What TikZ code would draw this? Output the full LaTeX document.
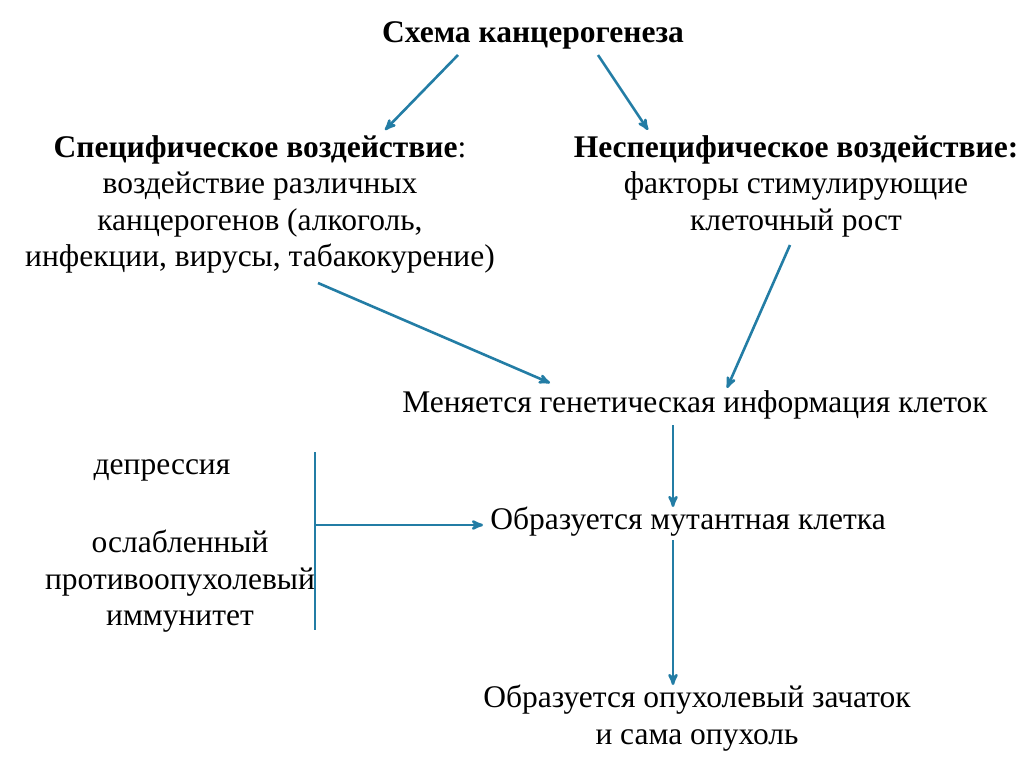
\documentclass[tikz,border=0pt]{standalone}
\usepackage{fontspec}
\setmainfont{Liberation Serif}
\usetikzlibrary{positioning}
\usetikzlibrary{arrows}
\definecolor{arrowblue}{RGB}{35,125,165}
\tikzset{txt/.style={align=center,inner sep=0pt,font=\fontsize{31.5}{36.5}\selectfont}}
\tikzset{line/.style={arrowblue,>=stealth',line width=2.6pt}}
\begin{document}
\begin{tikzpicture}[x=1pt,y=-1pt]
  \useasboundingbox (0,0) rectangle (1024,767);
  % Texts
  \node[txt,font=\fontsize{31.5}{36.5}\selectfont\bfseries] (title) at (533,35) {Схема канцерогенеза};
  \node[txt,anchor=north] (spec) at (260,135) {\textbf{Специфическое воздействие}:\\воздействие различных\\канцерогенов (алкоголь,\\инфекции, вирусы, табакокурение)};
  \node[txt,anchor=north] (nonspec) at (796,135) {\textbf{Неспецифическое воздействие:}\\факторы стимулирующие\\клеточный рост};
  \node[txt] (gene) at (695,405) {Меняется генетическая информация клеток};
  \node[txt] (mutant) at (688,522) {Образуется мутантная клетка};
  \node[txt,anchor=north] (tumor) at (697,685) {Образуется опухолевый зачаток\\и сама опухоль};
  \node[txt] (depr) at (162,470) {депрессия};
  \node[txt,anchor=north] (immun) at (180,530) {ослабленный\\противоопухолевый\\иммунитет};

  % Arrows
  \coordinate (t1) at (458,55);
  \coordinate (t2) at (598,55);
  \coordinate (s1) at (385,130);
  \coordinate (n1) at (648,130);
  \draw[line,->] (t1) -- (s1);
  \draw[line,->] (t2) -- (n1);
  \coordinate (s2) at (318,283);
  \coordinate (g1) at (550,383);
  \coordinate (n2) at (790,245);
  \coordinate (g2) at (727,388);
  \draw[line,->] (s2) -- (g1);
  \draw[line,->] (n2) -- (g2);
  \coordinate (g3) at (673,425);
  \coordinate (m1) at (673,507);
  \coordinate (m2) at (673,540);
  \coordinate (u1) at (673,685);
  \draw[line,->] (g3) -- (m1);
  \draw[line,->] (m2) -- (u1);
  % Bracket
  \coordinate (b1) at (315,452);
  \coordinate (b2) at (315,630);
  \coordinate (b3) at (315,525);
  \coordinate (m3) at (483,525);
  \draw[line] (b1) -- (b2);
  \draw[line,->] (b3) -- (m3);
\end{tikzpicture}
\end{document}
